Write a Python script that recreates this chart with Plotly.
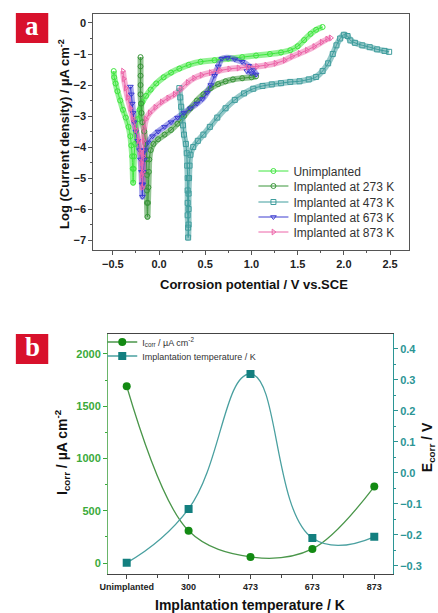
import plotly.graph_objects as go

W, H = 438, 613

# ---------------- Panel a data (potential V vs SCE, log current density) ----------------
unimp_v = [-0.49, -0.485, -0.47, -0.45, -0.42, -0.39, -0.36, -0.33, -0.31, -0.30, -0.29, -0.285, -0.28,
           -0.275, -0.27, -0.26, -0.25, -0.23, -0.21, -0.18, -0.14, -0.09, -0.03, 0.05, 0.13, 0.22, 0.32,
           0.45, 0.6, 0.75, 0.9, 1.05, 1.2, 1.32, 1.42, 1.5, 1.57, 1.64, 1.7, 1.77]
unimp_i = [-1.55, -1.75, -1.95, -2.2, -2.5, -2.8, -3.05, -3.35, -3.65, -3.95, -4.3, -4.7, -5.15,
           -4.7, -4.3, -3.9, -3.5, -3.1, -2.8, -2.55, -2.35, -2.15, -1.95, -1.75, -1.6, -1.47, -1.35,
           -1.25, -1.2, -1.15, -1.1, -1.05, -1.0, -0.95, -0.88, -0.75, -0.55, -0.35, -0.22, -0.13]

k273_v = [-0.20, -0.20, -0.20, -0.20, -0.20, -0.195, -0.19, -0.18, -0.16, -0.145, -0.135, -0.13, -0.13,
          -0.13, -0.125, -0.12, -0.115, -0.11, -0.105, -0.09, -0.06, -0.01, 0.06, 0.13, 0.2, 0.27, 0.34,
          0.41, 0.48, 0.56, 0.64, 0.72, 0.8, 0.9, 1.0, 1.05]
k273_i = [-1.1, -1.4, -1.7, -2.0, -2.3, -2.6, -2.9, -3.2, -3.5, -3.9, -4.4, -4.9, -5.4,
          -5.8, -6.25, -5.8, -5.3, -4.8, -4.4, -4.1, -3.9, -3.75, -3.6, -3.45, -3.25, -3.0, -2.75,
          -2.5, -2.3, -2.1, -1.97, -1.88, -1.82, -1.78, -1.75, -1.72]

k473_v = [0.22, 0.23, 0.24, 0.25, 0.26, 0.27, 0.29, 0.30, 0.305, 0.31, 0.31, 0.31, 0.31, 0.315, 0.315,
          0.32, 0.32, 0.32, 0.325, 0.33, 0.34, 0.37, 0.42, 0.48, 0.55, 0.63, 0.72, 0.82, 0.92, 1.02,
          1.12, 1.22, 1.32, 1.42, 1.52, 1.62, 1.7, 1.77, 1.83, 1.88, 1.92, 1.96, 2.0, 2.04, 2.07, 2.12,
          2.2, 2.28, 2.36, 2.44, 2.49]
k473_i = [-2.1, -2.4, -2.7, -3.0, -3.3, -3.6, -3.9, -4.2, -4.6, -5.0, -5.4, -5.8, -6.2, -6.6, -6.92,
          -6.5, -6.0, -5.5, -5.0, -4.6, -4.25, -4.0, -3.8, -3.6, -3.35, -3.05, -2.75, -2.48, -2.27, -2.12,
          -2.03, -1.98, -1.94, -1.9, -1.88, -1.82, -1.74, -1.55, -1.3, -1.0, -0.72, -0.5, -0.38, -0.42,
          -0.56, -0.64, -0.72, -0.78, -0.85, -0.9, -0.93]

k673_v = [-0.31, -0.30, -0.29, -0.28, -0.27, -0.25, -0.23, -0.21, -0.20, -0.19, -0.185, -0.18,
          -0.175, -0.17, -0.16, -0.15, -0.12, -0.07, -0.01, 0.06, 0.13, 0.2, 0.27, 0.34, 0.41, 0.47,
          0.52, 0.56, 0.6, 0.64, 0.68, 0.74, 0.82, 0.9, 0.97, 1.02, 1.05, 1.0, 0.95]
k673_i = [-2.05, -2.3, -2.6, -2.9, -3.2, -3.5, -3.8, -4.1, -4.4, -4.8, -5.2, -5.6,
          -5.2, -4.8, -4.4, -4.1, -3.85, -3.65, -3.5, -3.35, -3.2, -3.05, -2.9, -2.75, -2.6, -2.45,
          -2.25, -2.0, -1.7, -1.4, -1.15, -1.12, -1.17, -1.25, -1.38, -1.52, -1.66, -1.62, -1.55]

k873_v = [-0.39, -0.38, -0.36, -0.34, -0.31, -0.28, -0.25, -0.22, -0.20, -0.19, -0.185, -0.18,
          -0.175, -0.17, -0.165, -0.16, -0.14, -0.1, -0.04, 0.03, 0.1, 0.17, 0.24, 0.31, 0.38, 0.46,
          0.56, 0.66, 0.76, 0.86, 0.96, 1.06, 1.16, 1.26, 1.36, 1.44, 1.52, 1.6, 1.68, 1.76, 1.82, 1.86]
k873_i = [-1.55, -1.8, -2.1, -2.4, -2.75, -3.1, -3.45, -3.8, -4.15, -4.5, -4.9, -5.3,
          -4.8, -4.3, -3.8, -3.4, -3.1, -2.9, -2.72, -2.55, -2.42, -2.3, -2.12, -1.92, -1.78, -1.68,
          -1.6, -1.53, -1.48, -1.45, -1.42, -1.4, -1.36, -1.3, -1.2, -1.08, -0.98, -0.88, -0.76, -0.62,
          -0.52, -0.48]

series_names = ["Unimplanted", "Implanted at 273 K", "Implanted at 473 K",
                "Implanted at 673 K", "Implanted at 873 K"]

# ---------------- Panel b data ----------------
temp_labels = ["Unimplanted", "300", "473", "673", "873"]
icorr = [1690, 308, 58, 135, 731]
ecorr = [-0.29, -0.116, 0.319, -0.21, -0.206]

# ---------------- styling ----------------
FONT = "Arial, Liberation Sans, sans-serif"
colors_a = ["#3ee63e", "#3a963a", "#3f9d9d", "#3c3cd0", "#ec64a8"]
band_a = ["rgba(62,230,62,0.55)", "rgba(58,150,58,0.55)", "rgba(63,157,157,0.55)",
          "rgba(60,60,208,0.45)", "rgba(236,100,168,0.5)"]
symbols_a = ["circle-open", "circle-open", "square-open", "triangle-down-open", "triangle-right-open"]
GREEN = "#3aaa3a"
GREEN_DK = "#138a13"
TEAL = "#2b9595"
TEAL_DK = "#137f7f"

legend_ids_a = ["legend", "legend2", "legend3", "legend4", "legend5"]
legend_y_a = [171, 186, 202, 217, 232]

fig = go.Figure()

data_a = [(unimp_v, unimp_i), (k273_v, k273_i), (k473_v, k473_i), (k673_v, k673_i), (k873_v, k873_i)]
for (vx, iy), band in zip(data_a, band_a):
    fig.add_trace(go.Scatter(x=vx, y=iy, mode="lines", line=dict(color=band, width=6, shape="spline"),
                             showlegend=False, hoverinfo="skip", xaxis="x", yaxis="y"))
for (vx, iy), name, col, sym, lg in zip(data_a, series_names, colors_a, symbols_a, legend_ids_a):
    fig.add_trace(go.Scatter(x=vx, y=iy, mode="lines+markers", name=name,
                             line=dict(color=col, width=1, shape="spline"),
                             marker=dict(symbol=sym, size=5, color=col, line=dict(width=1)),
                             xaxis="x", yaxis="y", legend=lg))

idx = list(range(len(temp_labels)))
fig.add_trace(go.Scatter(x=idx, y=icorr, mode="lines+markers",
                         name="I<sub>corr</sub> / µA cm<sup>-2</sup>",
                         line=dict(color="#4a964a", width=1.3, shape="spline", smoothing=1),
                         marker=dict(symbol="circle", size=8, color=GREEN_DK),
                         xaxis="x2", yaxis="y2", legend="legend6"))
fig.add_trace(go.Scatter(x=idx, y=ecorr, mode="lines+markers",
                         name="Implantation temperature / K",
                         line=dict(color="#4aa0a0", width=1.3, shape="spline", smoothing=1.3),
                         marker=dict(symbol="square", size=8, color=TEAL_DK),
                         xaxis="x2", yaxis="y3", legend="legend7"))

def dx(a, b):
    return [a / W, b / W]

def dy(top, bottom):
    return [1 - bottom / H, 1 - top / H]

tickf_a = dict(family=FONT, size=11, color="#222", weight="bold")

legends = {}
for lg, ypx in zip(legend_ids_a, legend_y_a):
    legends[lg] = dict(x=250 / W, y=1 - ypx / H, xanchor="left", yanchor="middle",
                       bgcolor="rgba(0,0,0,0)", font=dict(family=FONT, size=12, color="#333"),
                       itemwidth=30)
for lg, ypx in zip(["legend6", "legend7"], [342, 356]):
    legends[lg] = dict(x=96 / W, y=1 - ypx / H, xanchor="left", yanchor="middle",
                       bgcolor="rgba(0,0,0,0)", font=dict(family=FONT, size=9, color="#333"),
                       itemwidth=30)

fig.update_layout(
    width=W, height=H, margin=dict(l=0, r=0, t=0, b=0),
    paper_bgcolor="white", plot_bgcolor="white",
    font=dict(family=FONT),
    xaxis=dict(domain=dx(87, 408), anchor="y", range=[-0.71, 2.70], dtick=0.5, tick0=0,
               tickformat=".1f", ticks="outside", ticklen=4, tickcolor="#555",
               showline=True, linecolor="#555", linewidth=1.2, mirror=True, showgrid=False,
               zeroline=False, tickfont=tickf_a,
               minor=dict(dtick=0.25, ticks="outside", ticklen=2, tickcolor="#555")),
    yaxis=dict(domain=dy(14, 250), anchor="x", range=[-7.32, 0.29], dtick=1,
               ticks="outside", ticklen=4, tickcolor="#555",
               showline=True, linecolor="#555", linewidth=1.2, mirror=True, showgrid=False,
               zeroline=False, tickfont=tickf_a,
               minor=dict(dtick=0.5, ticks="outside", ticklen=2, tickcolor="#555")),
    xaxis2=dict(domain=dx(102, 392), anchor="y2", range=[-0.3, 4.3],
                tickvals=idx, ticktext=temp_labels,
                ticks="outside", ticklen=4, tickcolor="#444",
                showline=True, linecolor="#444", linewidth=1.2, mirror=True, showgrid=False,
                zeroline=False, tickfont=dict(family=FONT, size=9, color="#222", weight="bold"),
                minor=dict(dtick=0.5, tick0=0, ticks="outside", ticklen=3, tickcolor="#444")),
    yaxis2=dict(domain=dy(334, 574), anchor="x2", range=[-105, 2190], dtick=500,
                ticks="outside", ticklen=4, tickcolor=GREEN,
                showline=True, linecolor="#6ab56a", linewidth=1.2, showgrid=False, zeroline=False,
                tickfont=dict(family=FONT, size=11, color=GREEN, weight="bold"),
                minor=dict(dtick=250, ticks="outside", ticklen=2, tickcolor=GREEN)),
    yaxis3=dict(overlaying="y2", anchor="x2", side="right", range=[-0.326, 0.448], dtick=0.1,
                tickformat=".1f", ticks="outside", ticklen=4, tickcolor=TEAL,
                showline=True, linecolor=TEAL, linewidth=1.2, showgrid=False, zeroline=False,
                tickfont=dict(family=FONT, size=11, color=TEAL, weight="bold"),
                minor=dict(dtick=0.05, ticks="outside", ticklen=2, tickcolor=TEAL)),
    **legends,
)

shapes = [
    dict(type="rect", xref="paper", yref="paper", x0=8 / W, x1=41 / W, y0=1 - 43 / H, y1=1 - 13 / H,
         fillcolor="#d8112c", line=dict(width=0), layer="above"),
    dict(type="rect", xref="paper", yref="paper", x0=8 / W, x1=41 / W, y0=1 - 364 / H, y1=1 - 334 / H,
         fillcolor="#d8112c", line=dict(width=0), layer="above"),
]
fig.update_layout(shapes=shapes)

def A(text, xp, yp, font, angle=0):
    return dict(text=text, x=xp / W, y=1 - yp / H, xref="paper", yref="paper", showarrow=False,
                xanchor="center", yanchor="middle", textangle=angle, font=font)

title_font = dict(family=FONT, size=13, color="#111", weight="bold")
title_font_b = dict(family=FONT, size=14, color="#111", weight="bold")
serif = dict(family="Liberation Serif, DejaVu Serif, serif", size=27, color="white", weight="bold")
ann = [
    A("a", 24.5, 26, serif),
    A("b", 24.5, 347, serif),
    A("Log (Current density) / µA cm<sup>-2</sup>", 57, 134, title_font, -90),
    A("Corrosion potential / V vs.SCE", 251, 284, title_font),
    A("Implantation temperature / K", 246, 605, title_font_b),
    A("I<sub>corr</sub> / µA cm<sup>-2</sup>", 55, 452, title_font_b, -90),
    A("E<sub>corr</sub> / V", 428, 447, title_font_b, -90),
]
fig.update_layout(annotations=ann)

fig.write_html("out.html")
